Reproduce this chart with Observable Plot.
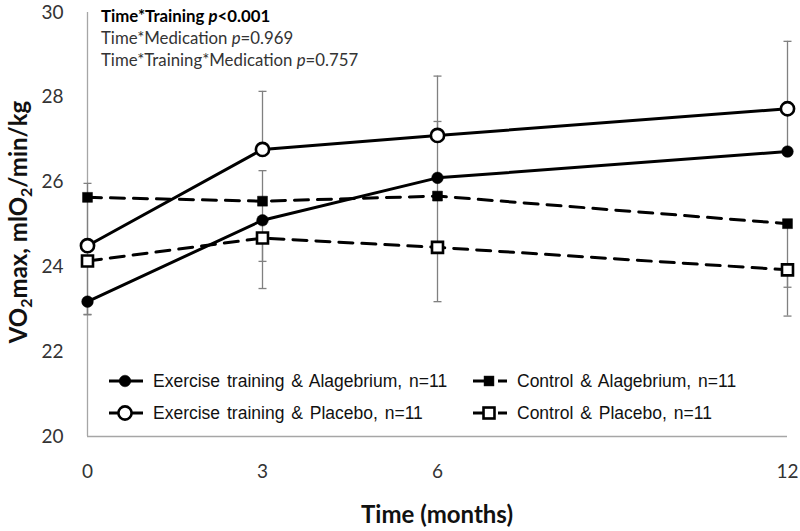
<!DOCTYPE html>
<html><head><meta charset="utf-8">
<script src="https://cdn.jsdelivr.net/npm/d3@7"></script>
<script src="https://cdn.jsdelivr.net/npm/@observablehq/plot@0.6"></script>
<style>body{margin:0;background:#fff}</style>
</head><body><div id="chart"></div>
<script>
// ---- data ----
const months = [0, 3, 6, 12];
const seriesNames = [
  "Exercise training & Alagebrium, n=11",
  "Exercise training & Placebo, n=11",
  "Control & Alagebrium, n=11",
  "Control & Placebo, n=11"
];
const exAlag = [23.18, 25.10, 26.10, 26.72];
const exPlac = [24.50, 26.77, 27.10, 27.73];
const ctAlag = [25.64, 25.55, 25.67, 25.02];
const ctPlac = [24.14, 24.68, 24.46, 23.93];
// error bar lengths drawn upward / downward (null = not drawn)
const exAlagUp   = [null, 1.17, 1.33, null];
const exAlagDown = [0.30, 0.97, 1.74, null];
const exPlacUp   = [1.47, 1.37, 1.40, 1.59];
const exPlacDown = [null, null, null, 1.00];
const ctAlagUp   = [null, null, null, null];
const ctAlagDown = [null, null, null, 1.50];
const ctPlacUp   = [null, null, null, null];
const ctPlacDown = [1.27, 1.19, 1.28, 1.09];
const yTicks = [20, 22, 24, 26, 28, 30];
const xTicks = [0, 3, 6, 12];
const statLines = [
  {label: "Time*Training ", p: "p", rest: "<0.001", bold: true},
  {label: "Time*Medication ", p: "p", rest: "=0.969", bold: false},
  {label: "Time*Training*Medication ", p: "p", rest: "=0.757", bold: false}
];

// ---- build tables ----
const values = [exAlag, exPlac, ctAlag, ctPlac];
const ups = [exAlagUp, exPlacUp, ctAlagUp, ctPlacUp];
const downs = [exAlagDown, exPlacDown, ctAlagDown, ctPlacDown];
const styles = [
  {symbol: "circle", fill: "black", dashed: false, r: 5.8},
  {symbol: "circle", fill: "white", dashed: false, r: 6.6},
  {symbol: "square", fill: "black", dashed: true, r: 5.6},
  {symbol: "square", fill: "white", dashed: true, r: 6.2}
];
const rows = [];
const errs = [];
seriesNames.forEach((name, i) => {
  months.forEach((t, j) => {
    rows.push({series: name, i, t, v: values[i][j]});
    if (ups[i][j] != null) errs.push({t, v: values[i][j], end: values[i][j] + ups[i][j]});
    if (downs[i][j] != null) errs.push({t, v: values[i][j], end: values[i][j] - downs[i][j]});
  });
});

const capSymbol = {draw(ctx) { ctx.moveTo(-4, 0); ctx.lineTo(4, 0); }};

const marks = [
  Plot.ruleY([20], {stroke: "#a6a6a6", strokeWidth: 1.3}),
  Plot.ruleX([0], {stroke: "#a6a6a6", strokeWidth: 1.3}),
  Plot.ruleX(errs, {x: "t", y1: "v", y2: "end", stroke: "#808080", strokeWidth: 1.3}),
  Plot.dot(errs, {x: "t", y: "end", symbol: capSymbol, stroke: "#808080", strokeWidth: 1.3, fill: "none"}),
  Plot.line(rows.filter(d => !styles[d.i].dashed), {x: "t", y: "v", z: "series", stroke: "black", strokeWidth: 3}),
  Plot.line(rows.filter(d => styles[d.i].dashed), {x: "t", y: "v", z: "series", stroke: "black", strokeWidth: 3, strokeDasharray: "14,9"})
];
styles.forEach((s, i) => {
  marks.push(Plot.dot(rows.filter(d => d.i === i), {
    x: "t", y: "v", symbol: s.symbol, r: s.r, fill: s.fill,
    stroke: "black", strokeWidth: s.fill === "white" ? 2.6 : 0.5
  }));
});
marks.push(
  Plot.axisY({ticks: yTicks, tickSize: 0, tickPadding: 24, label: null, fontSize: 19, fill: "#333"}),
  Plot.axisX({ticks: xTicks, tickSize: 0, tickPadding: 28, label: null, fontSize: 19, fill: "#333"})
);

const chart = Plot.plot({
  width: 800, height: 531,
  marginLeft: 87, marginRight: 13, marginTop: 12, marginBottom: 95,
  x: {domain: [0, 12]},
  y: {domain: [20, 30]},
  style: {fontFamily: "Lato, 'Open Sans', sans-serif", background: "white", overflow: "visible"},
  marks
});
document.getElementById("chart").appendChild(chart);

// ---- titles, annotation and legend ----
const svg = d3.select(chart);
svg.append("text")
  .attr("x", 437).attr("y", 523)
  .attr("text-anchor", "middle")
  .attr("font-family", "Lato, sans-serif").attr("font-weight", "bold").attr("font-size", 24)
  .attr("fill", "#111")
  .text("Time (months)");

const yl = svg.append("text")
  .attr("transform", "translate(27,222) rotate(-90)")
  .attr("text-anchor", "middle")
  .attr("font-family", "Lato, sans-serif").attr("font-weight", "bold").attr("font-size", 24)
  .attr("fill", "#111");
yl.append("tspan").text("VO");
yl.append("tspan").attr("font-size", 16).attr("dy", 5).text("2");
yl.append("tspan").attr("dy", -5).text("max, mlO");
yl.append("tspan").attr("font-size", 16).attr("dy", 5).text("2");
yl.append("tspan").attr("dy", -5).text("/min/kg");

statLines.forEach((s, k) => {
  const t = svg.append("text")
    .attr("x", 101).attr("y", 22 + k * 22)
    .attr("text-anchor", "start")
    .attr("font-family", "Lato, sans-serif").attr("font-size", 16.8)
    .attr("font-weight", s.bold ? "bold" : "normal")
    .attr("fill", s.bold ? "#000" : "#333");
  t.append("tspan").text(s.label);
  t.append("tspan").attr("font-style", "italic").text(s.p);
  t.append("tspan").text(s.rest);
});

const legendPos = [[109, 381], [109, 413], [473, 381], [473, 413]];
seriesNames.forEach((name, i) => {
  const [lx, ly] = legendPos[i];
  const s = styles[i];
  const g = svg.append("g");
  if (!s.dashed) {
    g.append("line").attr("x1", lx).attr("x2", lx + 34).attr("y1", ly).attr("y2", ly)
      .attr("stroke", "black").attr("stroke-width", 3);
  } else {
    g.append("line").attr("x1", lx).attr("x2", lx + 12).attr("y1", ly).attr("y2", ly)
      .attr("stroke", "black").attr("stroke-width", 3);
    g.append("line").attr("x1", lx + 25).attr("x2", lx + 34).attr("y1", ly).attr("y2", ly)
      .attr("stroke", "black").attr("stroke-width", 3);
  }
  const cx = lx + 16;
  if (s.symbol === "circle") {
    g.append("circle").attr("cx", cx).attr("cy", ly).attr("r", s.r)
      .attr("fill", s.fill).attr("stroke", "black").attr("stroke-width", s.fill === "white" ? 2.6 : 0.5);
  } else {
    const side = s.r * 1.77;
    g.append("rect").attr("x", cx - side / 2).attr("y", ly - side / 2).attr("width", side).attr("height", side)
      .attr("fill", s.fill).attr("stroke", "black").attr("stroke-width", s.fill === "white" ? 2.6 : 0.5);
  }
  g.append("text").attr("x", lx + 44).attr("y", ly + 6)
    .attr("text-anchor", "start")
    .attr("font-family", "'Liberation Sans', Arial, sans-serif").attr("font-size", 17.5)
    .attr("word-spacing", 2)
    .attr("fill", "#111")
    .text(name);
});
</script>
</body></html>
